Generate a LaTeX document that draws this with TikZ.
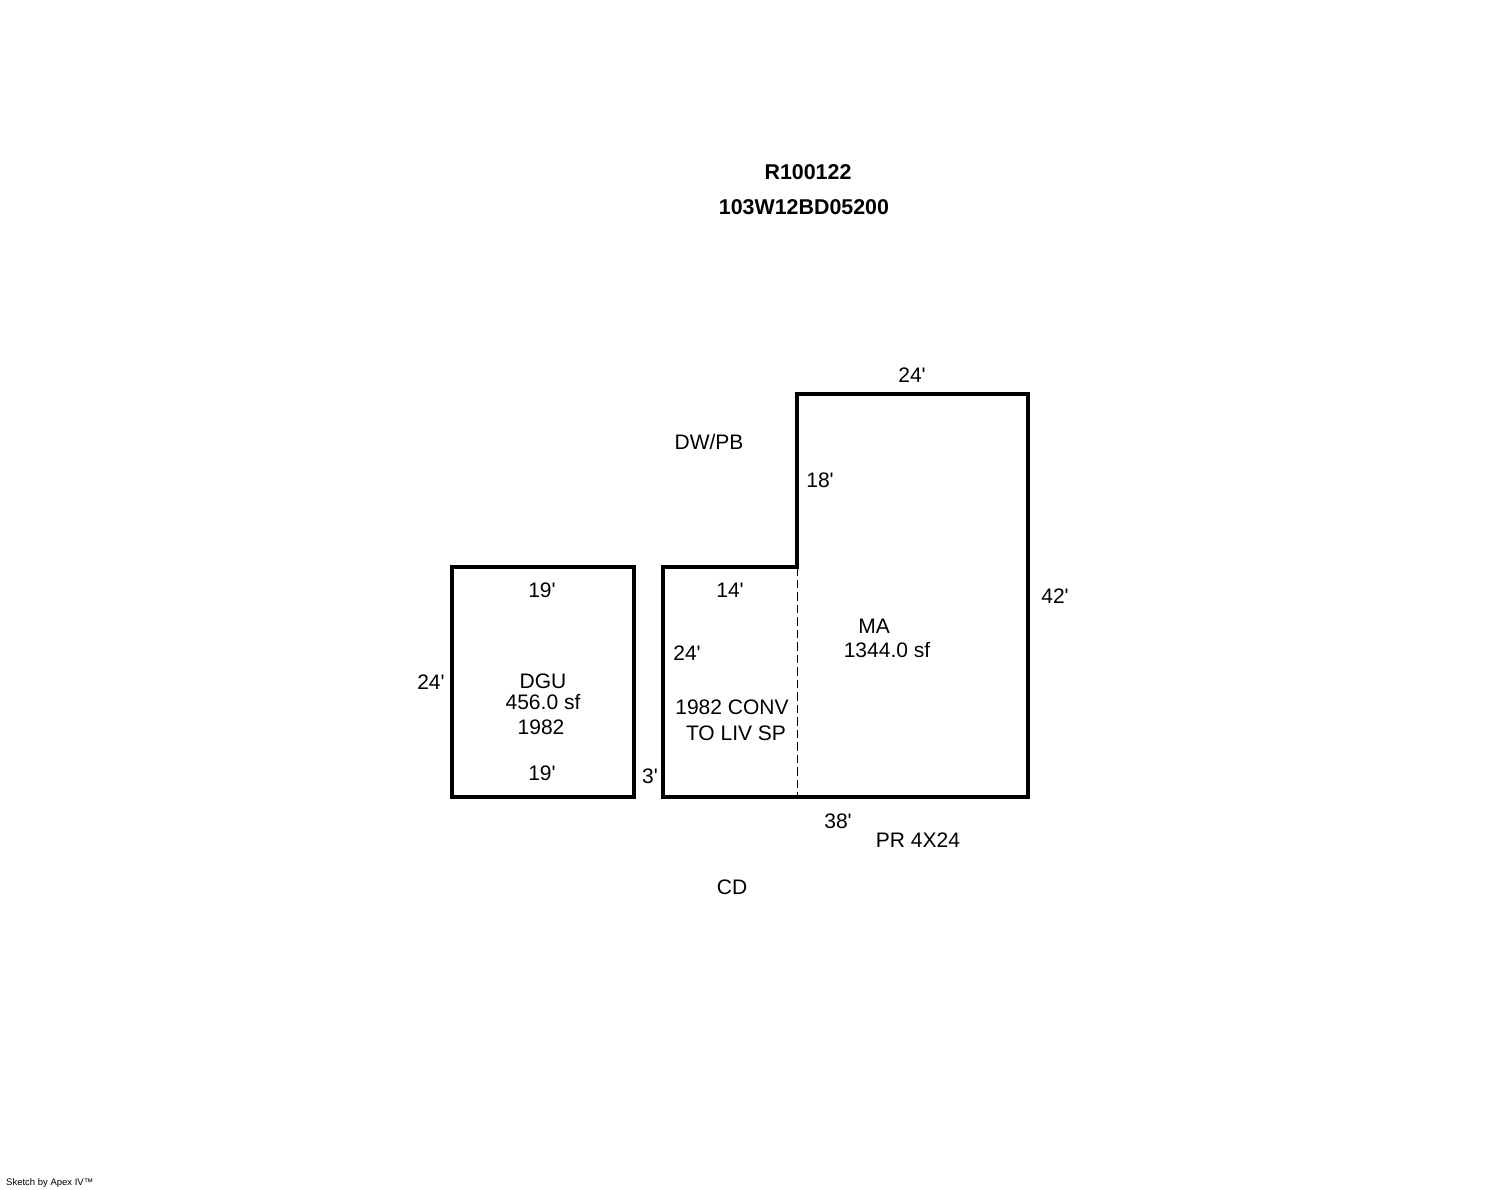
\documentclass[tikz,border=0pt]{standalone}
\usepackage{fontspec}
\setmainfont{Liberation Sans}
\usepackage{tikz}
\usetikzlibrary{positioning, calc}

\newcommand{\ft}{\textquotesingle}

\begin{document}
\begin{tikzpicture}[
  x=1pt, y=-1pt,
  wall/.style={draw=black, line width=4pt, line join=miter},
  partition/.style={draw=black, line width=1pt, dash pattern=on 8.5pt off 4pt},
  label/.style={inner sep=0pt, font=\fontsize{21}{25}\selectfont, align=center},
  idlabel/.style={inner sep=0pt, font=\fontsize{21.4}{25}\selectfont\bfseries},
  credit/.style={inner sep=0pt, font=\fontsize{9.5}{11}\selectfont}
]
\useasboundingbox (0,0) rectangle (1488,1190);

% Header
\node[idlabel] (parcel) at (808,172) {R100122};
\node[idlabel] (taxlot) at (804,207) {103W12BD05200};

% Main area
\draw[wall] (663,567) -- (797,567) -- (797,394) -- (1028,394) -- (1028,797) -- (663,797) -- cycle;
\coordinate (conv_top) at (797,567);
\coordinate (conv_bot) at (797,797);
\draw[partition] (conv_top) -- (conv_bot);

% Garage
\draw[wall] (452,567) rectangle (634,797);

% Dimensions
\node[label] (dim_top) at (912,375) {24\ft};
\node[label] (dim_inner) at (820,480) {18\ft};
\node[label] (dim_right) at (1055,596) {42\ft};
\node[label] (dim_conv_top) at (730,590) {14\ft};
\node[label] (dim_conv_left) at (687,653) {24\ft};
\node[label] (dim_gap) at (650,776) {3\ft};
\node[label] (dim_bot) at (838,821) {38\ft};
\node[label] (dim_gar_top) at (542,590) {19\ft};
\node[label] (dim_gar_bot) at (542,773) {19\ft};
\node[label] (dim_gar_left) at (431,682) {24\ft};

% Areas
\node[label] (ma_name) at (874,626) {MA};
\node[label] (ma_area) at (887,650) {1344.0 sf};
\node[label] (dgu_name) at (543,681) {DGU};
\node[label] (dgu_area) at (543,702) {456.0 sf};
\node[label] (dgu_year) at (541,727) {1982};
\node[label] (conv_a) at (732,707) {1982 CONV};
\node[label] (conv_b) at (736,733) {TO LIV SP};

% Site notes
\node[label] (driveway) at (709,442) {DW/PB};
\node[label] (porch) at (918,840) {PR 4X24};
\node[label] (curb) at (732,887) {CD};
\node[credit, anchor=west] (sketch) at (6,1183) {Sketch by Apex IV\texttrademark};

\end{tikzpicture}
\end{document}
